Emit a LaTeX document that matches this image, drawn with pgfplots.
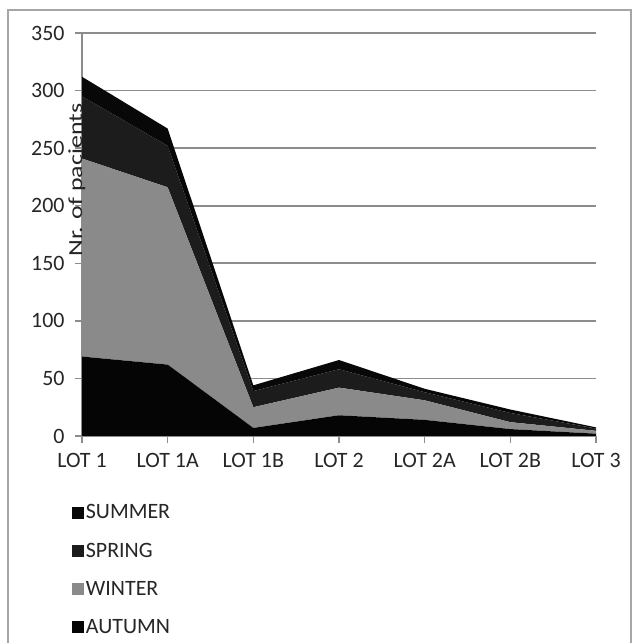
\documentclass[border=0pt]{standalone}
\usepackage{fontspec}
\setmainfont{Carlito}
\usepackage{pgfplots}
\pgfplotsset{compat=1.18}
\definecolor{cAut}{HTML}{050505}
\definecolor{cWin}{HTML}{8A8A8A}
\definecolor{cSpr}{HTML}{1C1C1C}
\definecolor{cSum}{HTML}{080808}
\definecolor{txt}{HTML}{262626}
\definecolor{gridc}{HTML}{8C8C8C}
\begin{document}
\begin{tikzpicture}
\useasboundingbox (0,0) rectangle (639bp,643bp);
\fill[white] (0,0) rectangle (639bp,643bp);
\draw[gray!70, line width=1.2bp] (8bp,-5bp) -- (8bp,633bp) -- (631bp,633bp) -- (631bp,-5bp);
\begin{axis}[
  at={(82bp,207bp)}, anchor=south west,
  scale only axis, width=514bp, height=403bp,
  xmin=0, xmax=6, ymin=0, ymax=350,
  stack plots=y,
  axis lines*=left,
  axis line style={gridc, line width=1.3bp},
  xtick={0,...,6},
  xticklabels={LOT 1, LOT 1A, LOT 1B, LOT 2, LOT 2A, LOT 2B, LOT 3},
  ytick={0,50,...,350},
  tick align=outside,
  major tick length=7bp,
  tick style={gridc, line width=1.3bp},
  ymajorgrids,
  grid style={gridc, line width=1.6bp},
  /pgf/number format/assume math mode=true,
  ticklabel style={font=\fontsize{22}{26}\selectfont, text=txt},
  xticklabel style={yshift=-7bp},
  yticklabel style={xshift=-7bp},
  ylabel={\scalebox{1.3}[1]{Nr. of pacients}},
  ylabel style={at={(rel axis cs:-0.01,0.635)}, anchor=center, rotate=0, font=\fontsize{20}{24}\selectfont, text=txt},
  legend style={at={(rel axis cs:-0.02,-0.165)}, anchor=north west, draw=none, fill=none,
    font=\fontsize{22}{26}\selectfont, text=txt, row sep=18.5bp, inner sep=0pt},
  legend cell align=left,
  reverse legend,
  legend image code/.code={\fill[#1] (0bp,-6bp) rectangle (12bp,6bp);},
]
\addplot[fill=cAut, draw=none] coordinates {(0,69) (1,62) (2,7) (3,18) (4,14) (5,6) (6,2)} \closedcycle;
\addlegendentry{AUTUMN}
\addplot[fill=cWin, draw=none] coordinates {(0,172) (1,154) (2,18) (3,24) (4,17) (5,6) (6,2.5)} \closedcycle;
\addlegendentry{WINTER}
\addplot[fill=cSpr, draw=none] coordinates {(0,54) (1,36) (2,14) (3,16) (4,7) (5,8) (6,2)} \closedcycle;
\addlegendentry{SPRING}
\addplot[fill=cSum, draw=none] coordinates {(0,17) (1,15) (2,5) (3,8) (4,3) (5,3) (6,1)} \closedcycle;
\addlegendentry{SUMMER}
\end{axis}
\end{tikzpicture}
\end{document}
